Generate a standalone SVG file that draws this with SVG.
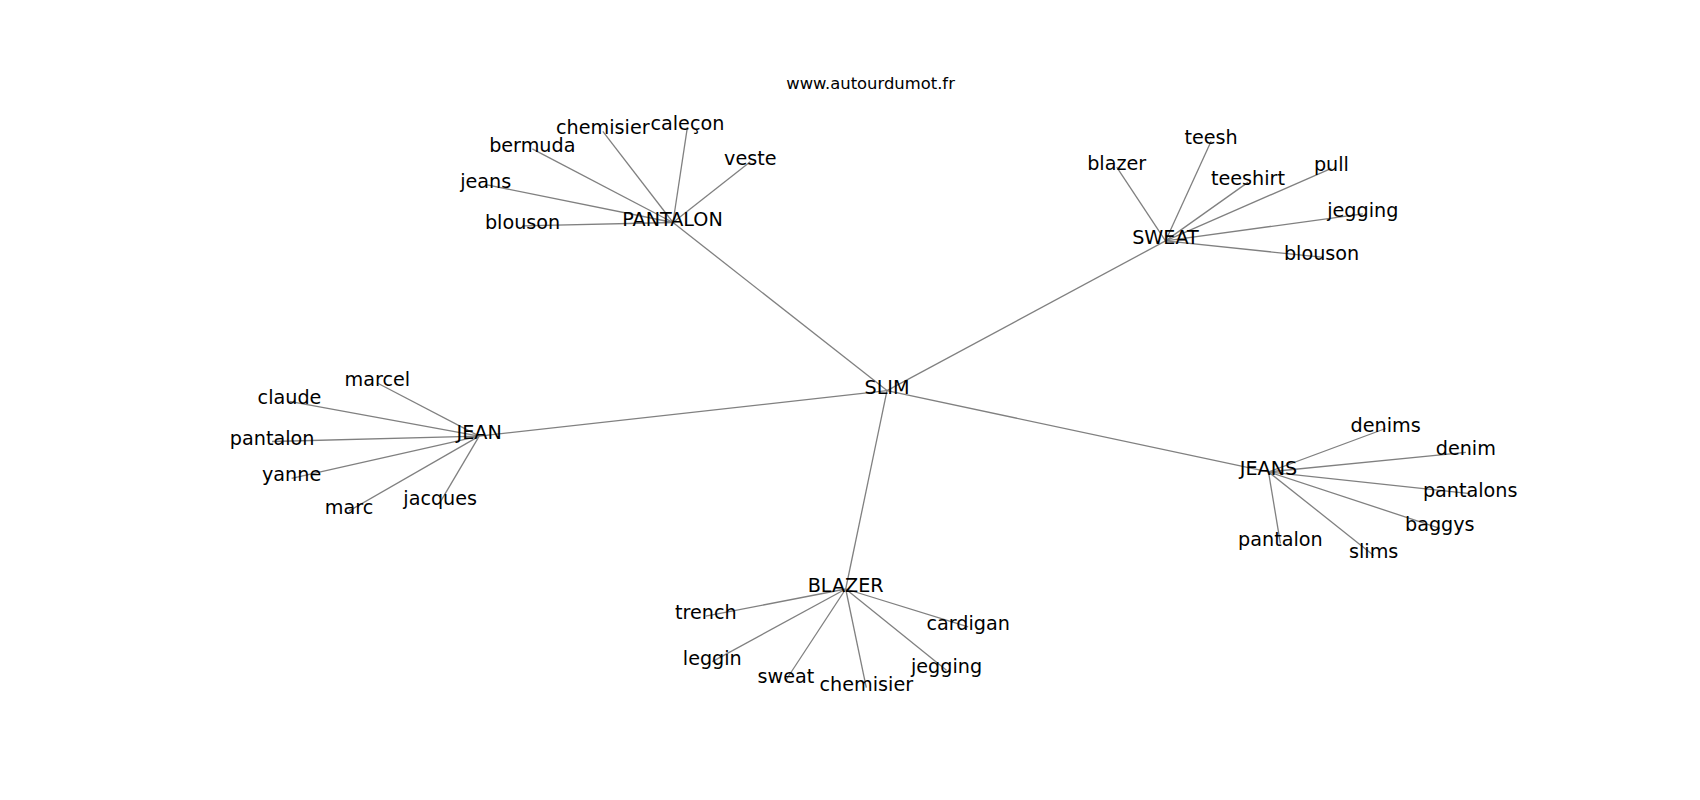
<svg xmlns="http://www.w3.org/2000/svg" width="1700" height="800" viewBox="0 0 1700 800">
<style>
.e{stroke:#808080;stroke-width:1.3;fill:none}
text{font-family:"DejaVu Sans",sans-serif;fill:#000;text-anchor:middle}
.n text{font-size:19.2px}
.t{font-size:16.4px}
</style>
<rect width="1700" height="800" fill="#fff"/>
<text class="t" x="870.6" y="89">www.autourdumot.fr</text>
<g id="edges">
<line class="e" x1="887" y1="390.6" x2="673" y2="222.5"/>
<line class="e" x1="887" y1="390.6" x2="1165.5" y2="240.9"/>
<line class="e" x1="887" y1="390.6" x2="479.2" y2="436.1"/>
<line class="e" x1="887" y1="390.6" x2="1268.5" y2="471.9"/>
<line class="e" x1="887" y1="390.6" x2="845.7" y2="589"/>
<line class="e" x1="673" y1="222.5" x2="602.8" y2="131.4"/>
<line class="e" x1="673" y1="222.5" x2="687.4" y2="127.1"/>
<line class="e" x1="673" y1="222.5" x2="532.3" y2="148.8"/>
<line class="e" x1="673" y1="222.5" x2="750.3" y2="161.8"/>
<line class="e" x1="673" y1="222.5" x2="485.7" y2="184.6"/>
<line class="e" x1="673" y1="222.5" x2="522.6" y2="225.8"/>
<line class="e" x1="1165.5" y1="240.9" x2="1116.7" y2="167.2"/>
<line class="e" x1="1165.5" y1="240.9" x2="1211.1" y2="141.2"/>
<line class="e" x1="1165.5" y1="240.9" x2="1247.9" y2="182.4"/>
<line class="e" x1="1165.5" y1="240.9" x2="1331.4" y2="168.3"/>
<line class="e" x1="1165.5" y1="240.9" x2="1362.8" y2="213.8"/>
<line class="e" x1="1165.5" y1="240.9" x2="1321.6" y2="257.2"/>
<line class="e" x1="479.2" y1="436.1" x2="377.3" y2="383"/>
<line class="e" x1="479.2" y1="436.1" x2="289.5" y2="401.4"/>
<line class="e" x1="479.2" y1="436.1" x2="272.1" y2="441.5"/>
<line class="e" x1="479.2" y1="436.1" x2="291.6" y2="478.4"/>
<line class="e" x1="479.2" y1="436.1" x2="349.1" y2="510.9"/>
<line class="e" x1="479.2" y1="436.1" x2="440.2" y2="502.2"/>
<line class="e" x1="1268.5" y1="471.9" x2="1385.6" y2="428.5"/>
<line class="e" x1="1268.5" y1="471.9" x2="1465.8" y2="452.4"/>
<line class="e" x1="1268.5" y1="471.9" x2="1470.2" y2="493.6"/>
<line class="e" x1="1268.5" y1="471.9" x2="1439.8" y2="528.3"/>
<line class="e" x1="1268.5" y1="471.9" x2="1373.7" y2="555.4"/>
<line class="e" x1="1268.5" y1="471.9" x2="1280.4" y2="543.4"/>
<line class="e" x1="845.7" y1="589" x2="705.8" y2="616.1"/>
<line class="e" x1="845.7" y1="589" x2="968.2" y2="626.9"/>
<line class="e" x1="845.7" y1="589" x2="712.3" y2="661.6"/>
<line class="e" x1="845.7" y1="589" x2="946.5" y2="670.3"/>
<line class="e" x1="845.7" y1="589" x2="786" y2="680"/>
<line class="e" x1="845.7" y1="589" x2="866.3" y2="687.6"/>
</g>
<g class="n">
<g id="n-slim"><text x="887" y="393.6">SLIM</text></g>
<g id="n-pantalon"><text x="672.5" y="225.5">PANTALON</text></g>
<g id="n-chemisier1"><text x="602.8" y="134.4">chemisier</text></g>
<g id="n-calecon"><text x="687.4" y="130.1">caleçon</text></g>
<g id="n-bermuda"><text x="532.3" y="151.8">bermuda</text></g>
<g id="n-veste"><text x="750.3" y="164.8">veste</text></g>
<g id="n-jeans1"><text x="485.7" y="187.6">jeans</text></g>
<g id="n-blouson1"><text x="522.6" y="228.8">blouson</text></g>
<g id="n-sweat"><text x="1165.5" y="243.9">SWEAT</text></g>
<g id="n-blazer1"><text x="1116.7" y="170.2">blazer</text></g>
<g id="n-teesh"><text x="1211.1" y="144.2">teesh</text></g>
<g id="n-teeshirt"><text x="1247.9" y="185.4">teeshirt</text></g>
<g id="n-pull"><text x="1331.4" y="171.3">pull</text></g>
<g id="n-jegging1"><text x="1362.8" y="216.8">jegging</text></g>
<g id="n-blouson2"><text x="1321.6" y="260.2">blouson</text></g>
<g id="n-jean"><text x="479.2" y="439.1">JEAN</text></g>
<g id="n-marcel"><text x="377.3" y="386">marcel</text></g>
<g id="n-claude"><text x="289.5" y="404.4">claude</text></g>
<g id="n-pantalon1"><text x="272.1" y="444.5">pantalon</text></g>
<g id="n-yanne"><text x="291.6" y="481.4">yanne</text></g>
<g id="n-marc"><text x="349.1" y="513.9">marc</text></g>
<g id="n-jacques"><text x="440.2" y="505.2">jacques</text></g>
<g id="n-jeans"><text x="1268.5" y="474.9">JEANS</text></g>
<g id="n-denims"><text x="1385.6" y="431.5">denims</text></g>
<g id="n-denim"><text x="1465.8" y="455.4">denim</text></g>
<g id="n-pantalons"><text x="1470.2" y="496.6">pantalons</text></g>
<g id="n-baggys"><text x="1439.8" y="531.3">baggys</text></g>
<g id="n-slims"><text x="1373.7" y="558.4">slims</text></g>
<g id="n-pantalon2"><text x="1280.4" y="546.4">pantalon</text></g>
<g id="n-blazer"><text x="845.7" y="592">BLAZER</text></g>
<g id="n-trench"><text x="705.8" y="619.1">trench</text></g>
<g id="n-cardigan"><text x="968.2" y="629.9">cardigan</text></g>
<g id="n-leggin"><text x="712.3" y="664.6">leggin</text></g>
<g id="n-jegging2"><text x="946.5" y="673.3">jegging</text></g>
<g id="n-sweat2"><text x="786" y="683">sweat</text></g>
<g id="n-chemisier2"><text x="866.3" y="690.6">chemisier</text></g>
</g>
</svg>
